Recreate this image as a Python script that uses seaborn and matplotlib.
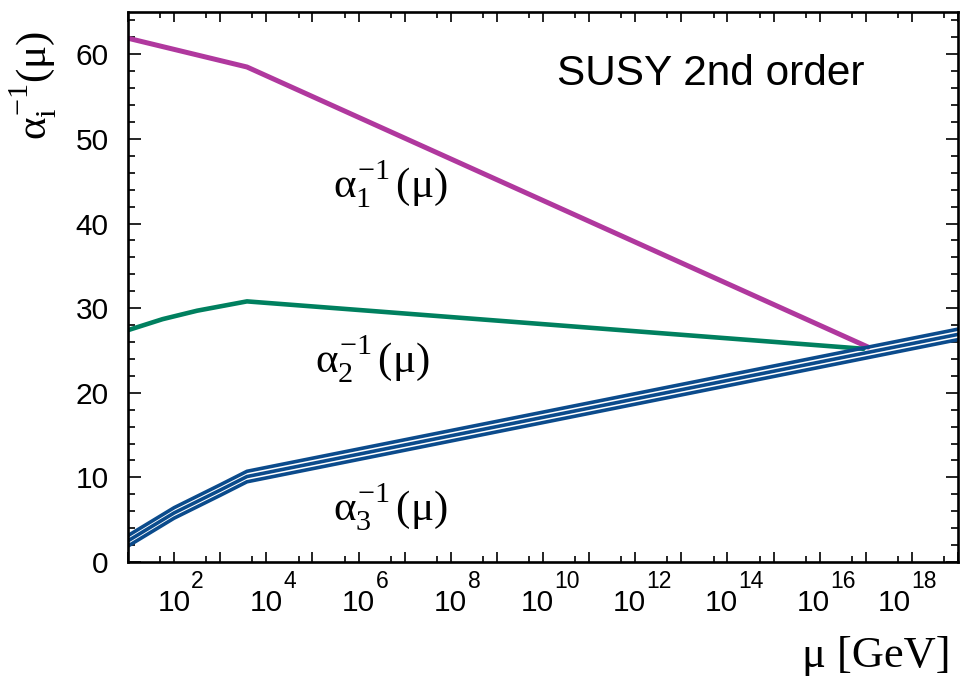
import numpy as np
import pandas as pd
import matplotlib
matplotlib.use('Agg')
import matplotlib.pyplot as plt
import seaborn as sns
from matplotlib.ticker import FixedLocator, NullFormatter
from matplotlib.transforms import blended_transform_factory, ScaledTranslation

# values: log10(mu / GeV) and alpha^-1
log_mu_1 = [1.0, 3.58, 17.05]
alpha1_inv = [61.9, 58.5, 25.4]

log_mu_2 = [1.0, 1.75, 2.5, 3.58, 16.95]
alpha2_inv = [27.4, 28.7, 29.7, 30.8, 25.2]

log_mu_3 = [1.0, 2.0, 3.0, 3.58, 19.0]
alpha3_inv = [2.5, 5.8, 8.5, 10.1, 26.9]
alpha3_err = 0.62  # half width of the alpha_3 band

x_range = (1, 19)
y_range = (0, 65)
x_labels_at = [2, 4, 6, 8, 10, 12, 14, 16, 18]

magenta = '#B0389E'
green = '#00805F'
blue = '#0B4B8C'

sns.set_style('ticks')
plt.rcParams['font.family'] = ['Liberation Sans', 'DejaVu Sans']
plt.rcParams['mathtext.fontset'] = 'custom'
plt.rcParams['mathtext.rm'] = 'Liberation Serif'
plt.rcParams['mathtext.it'] = 'Liberation Serif'
plt.rcParams['mathtext.bf'] = 'Liberation Serif:bold'
plt.rcParams['text.color'] = 'black'

# raise superscripts a bit, like the ROOT labels in the original
try:
    import matplotlib._mathtext as _mt
    _mt.FontConstantsBase.sup1 = 0.95
except Exception:
    pass

fig = plt.figure(figsize=(9.61, 6.85), dpi=100)
ax = fig.add_axes([128 / 961, 1 - 562 / 685, 830 / 961, 550 / 685])

df1 = pd.DataFrame({'mu': 10.0 ** np.array(log_mu_1), 'a': alpha1_inv})
df2 = pd.DataFrame({'mu': 10.0 ** np.array(log_mu_2), 'a': alpha2_inv})
df3 = pd.DataFrame({'mu': 10.0 ** np.array(log_mu_3), 'a': alpha3_inv})

sns.lineplot(data=df1, x='mu', y='a', ax=ax, color=magenta, lw=3.6,
             sort=False, estimator=None)
sns.lineplot(data=df2, x='mu', y='a', ax=ax, color=green, lw=3.3,
             sort=False, estimator=None)
for off in (-alpha3_err, 0.0, alpha3_err):
    sns.lineplot(x=df3['mu'], y=df3['a'] + off, ax=ax, color=blue, lw=2.6,
                 sort=False, estimator=None)

ax.set_xscale('log')
ax.set_xlim(10.0 ** x_range[0], 10.0 ** x_range[1])
ax.set_ylim(*y_range)

# ticks: long at every decade, short at 5*10^n
majors = [10.0 ** n for n in range(x_range[0], x_range[1] + 1)]
minors = [5 * 10.0 ** n for n in range(x_range[0], x_range[1])]
ax.xaxis.set_major_locator(FixedLocator(majors))
ax.xaxis.set_minor_locator(FixedLocator(minors))
ax.xaxis.set_minor_formatter(NullFormatter())
ax.set_xticklabels([''] * len(majors))
ax.set_yticks(range(0, 61, 10))
ax.set_yticks(range(0, 66, 2), minor=True)

ax.tick_params(axis='both', which='both', direction='in', top=True,
               right=True, width=1.2, labelsize=21.5, colors='black')
ax.tick_params(axis='x', which='major', length=7, pad=8)
ax.tick_params(axis='x', which='minor', length=4.3)
ax.tick_params(axis='y', which='major', length=9, pad=14)
ax.tick_params(axis='y', which='minor', length=5)
for s in ax.spines.values():
    s.set_linewidth(1.9)
    s.set_color('black')

# x tick labels written ROOT style: "10" centred on the tick, big exponent
base = blended_transform_factory(ax.transData, fig.transFigure)
for n in x_labels_at:
    shift = -6 if n >= 10 else 0
    if n == x_labels_at[-1]:
        shift = -18
    t10 = base + ScaledTranslation(shift / 100, 0, fig.dpi_scale_trans)
    tex = base + ScaledTranslation((shift + 17) / 100, 0, fig.dpi_scale_trans)
    ax.text(10.0 ** n, 1 - 611 / 685, '10', transform=t10, ha='center',
            va='baseline', fontsize=21.5)
    ax.text(10.0 ** n, 1 - 588 / 685, str(n), transform=tex, ha='left',
            va='baseline', fontsize=16.5)

ax.set_xlabel('')
ax.set_ylabel('')

ax.text(0.517, 0.867, 'SUSY 2nd order', transform=ax.transAxes,
        ha='left', va='baseline', fontsize=30.5, color='black')

lab_size = 31
ax.text(10 ** 5.45, 43.1, r'$\alpha_1^{-1}\,(\mu)$', ha='left',
        va='baseline', fontsize=lab_size)
ax.text(10 ** 5.06, 22.4, r'$\alpha_2^{-1}\,(\mu)$', ha='left',
        va='baseline', fontsize=lab_size)
ax.text(10 ** 5.45, 4.95, r'$\alpha_3^{-1}\,(\mu)$', ha='left',
        va='baseline', fontsize=lab_size)

fig.text(950 / 961, 1 - 667 / 685, 'μ [GeV]', ha='right', va='baseline',
         fontsize=32, family='Liberation Serif')
fig.text(33 / 961, 1 - 86 / 685, r'$\alpha_i^{-1}(\mu)$', rotation=90,
         ha='center', va='center', fontsize=31)

fig.savefig('out.png', dpi=100)
